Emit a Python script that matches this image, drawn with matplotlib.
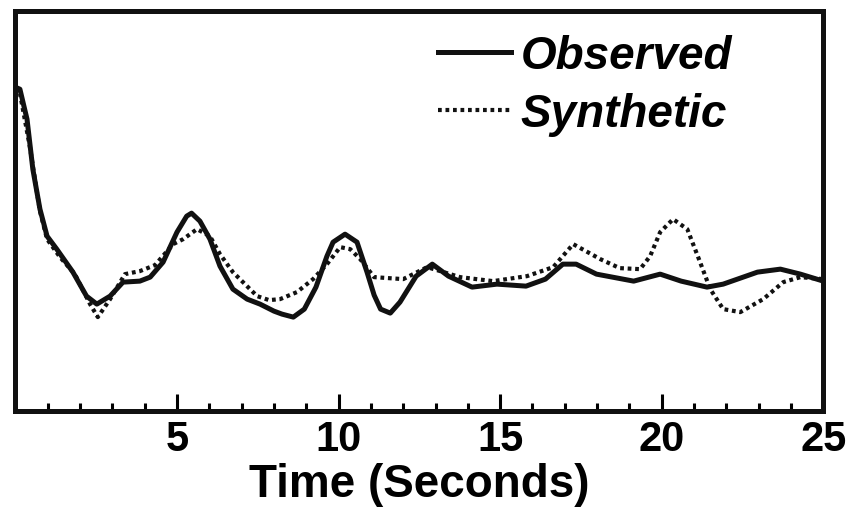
import numpy as np
import matplotlib
matplotlib.use("Agg")
import matplotlib.pyplot as plt
from matplotlib.ticker import MultipleLocator

# time (s) and relative amplitude
t_obs = [0, 0.14, 0.36, 0.54, 0.76, 0.98, 1.28, 1.78, 2.2, 2.52, 2.93, 3.33, 3.85,
         4.17, 4.57, 5.0, 5.3, 5.45, 5.71, 6.02, 6.33, 6.73, 7.17, 7.57, 8.0, 8.25,
         8.6, 8.94, 9.3, 9.64, 9.83, 10.2, 10.57, 10.88, 11.1, 11.3, 11.6, 11.9,
         12.4, 12.9, 13.4, 14.13, 14.9, 15.8, 16.4, 16.94, 17.35, 17.98, 19.13,
         19.95, 20.6, 21.4, 21.9, 22.96, 23.67, 24.29, 25]
observed = [81, 80.5, 73, 60.5, 50.5, 43.75, 40.5, 34.75, 28.75, 26.75, 28.75, 32.25,
            32.5, 33.5, 37.25, 44.75, 48.75, 49.5, 47.5, 43, 36.25, 30.5, 28, 26.75,
            25, 24.25, 23.5, 25.5, 31, 38.75, 42.25, 44.25, 42.25, 34.75, 29, 25.5,
            24.5, 27.25, 33.75, 36.75, 33.75, 31, 31.75, 31.25, 33, 36.75, 36.75,
            34.25, 32.5, 34.25, 32.5, 31, 31.75, 34.75, 35.5, 34.25, 32.5]

t_syn = [0, 0.14, 0.45, 0.76, 0.98, 1.38, 1.84, 2.31, 2.55, 2.93, 3.39, 3.85, 4.32,
         4.88, 5.19, 5.62, 6.02, 6.33, 6.73, 7.26, 7.48, 7.85, 8.19, 8.71, 9.21,
         9.64, 10.05, 10.36, 10.67, 11.1, 12.0, 12.74, 13.76, 14.78, 15.83, 16.64,
         17.26, 18.1, 18.7, 19.33, 19.64, 19.95, 20.35, 20.79, 21.15, 21.5, 21.9,
         22.43, 23.14, 23.76, 24.29, 25]
synthetic = [81, 79.5, 66, 50, 43, 38.5, 34.25, 26.75, 23.5, 28, 34.25, 35, 36.5,
             41.75, 43, 45.5, 43.75, 39.25, 34.75, 30.5, 28.75, 27.75, 28, 29.75, 33,
             36.75, 41, 40.5, 38, 33.5, 33, 36, 33.5, 32.5, 33.75, 36,
             41.75, 38, 35.75, 35.5, 38.75, 44.75, 48, 45.5, 38, 30.5, 25.5,
             24.75, 28, 32.25, 33.5, 33]

fig = plt.figure(figsize=(8.55, 5.10), dpi=100)
ax = fig.add_axes([0.018, 0.192, 0.945, 0.784])

ax.plot(t_obs, observed, color="#111111", lw=3.6, label="Observed",
        solid_joinstyle="round")
ax.plot(t_syn, synthetic, color="#111111", lw=3.0, linestyle=(0, (0.9, 0.9)),
        label="Synthetic")

ax.set_xlim(0, 25)
ax.set_ylim(0, 100)
ax.set_yticks([])
ax.xaxis.set_minor_locator(MultipleLocator(1))
ax.set_xticks([5, 10, 15, 20, 25])
ax.tick_params(axis="x", which="major", direction="in", length=12, width=2.2,
               pad=6, labelsize=30)
ax.tick_params(axis="x", which="minor", direction="in", length=6, width=2.2)
for lab in ax.get_xticklabels():
    lab.set_fontfamily("Liberation Sans")
    lab.set_fontweight("bold")

for sp in ax.spines.values():
    sp.set_linewidth(3.6)
    sp.set_color("#111111")

ax.set_xlabel("Time (Seconds)", fontsize=33, fontweight="bold",
              family="Liberation Sans", labelpad=2)

leg = ax.legend(loc="upper right", frameon=False,
                prop={"family": "Liberation Sans", "weight": "bold",
                      "style": "italic", "size": 33},
                handlelength=1.6, handletextpad=0.2, labelspacing=0.3,
                borderaxespad=0.1, bbox_to_anchor=(0.915, 1.0))

fig.savefig("out.png", dpi=100)
